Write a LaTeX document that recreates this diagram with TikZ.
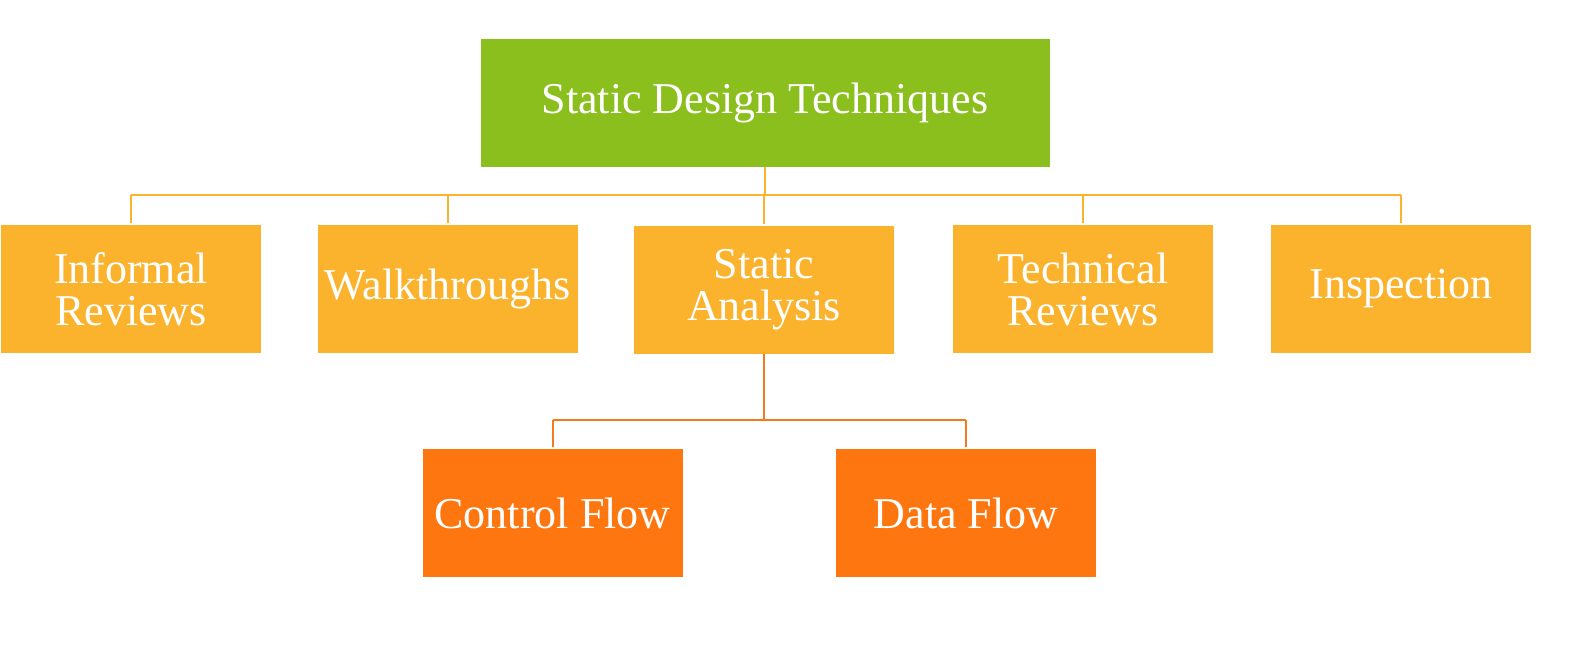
\documentclass[tikz,border=0pt]{standalone}
\usepackage{fontspec}
\setmainfont{Liberation Serif}
\definecolor{rootgreen}{HTML}{8BBF1D}
\definecolor{midorange}{HTML}{FBB32E}
\definecolor{leaforange}{HTML}{FE760F}
\definecolor{leafline}{HTML}{F47A1E}

\begin{document}
\begin{tikzpicture}[%
  x=1pt, y=-1pt,
  box/.style={fill=#1, draw=none, text=white, inner sep=0pt, align=center,
    minimum width=260pt, minimum height=128pt,
    font=\fontsize{44}{42}\selectfont},
  topbox/.style={box=rootgreen, minimum width=569pt},
  techbox/.style={box=midorange},
  flowbox/.style={box=leaforange},
  busline/.style={draw=midorange, line width=2pt},
  flowline/.style={draw=leafline, line width=2pt}]
\useasboundingbox (0,0) rectangle (1596,656);
\node[topbox] (sdt) at (765,103) {Static Design Techniques};
\node[techbox] (ir)  at (131,289)   {Informal\\Reviews};
\node[techbox] (wt)  at (447.5,289) {Walkthroughs};
\node[techbox] (sa)  at (764,290)   {Static\\Analysis};
\node[techbox] (tr)  at (1083,289)  {Technical\\Reviews};
\node[techbox] (ins) at (1401,289)  {Inspection};
\node[flowbox] (cf)  at (552.5,513) {Control Flow};
\node[flowbox] (df)  at (966,513)   {Data Flow};
\coordinate (bus) at (765,195);
\coordinate (flowbus) at (764,420);
\draw[busline] (sdt.south) -- (sdt.south |- bus);
\draw[busline] (bus -| ir.north) -- (bus -| ins.north);
\foreach \t in {ir,wt,sa,tr,ins}
  \draw[busline] (bus -| \t.north) -- ([yshift=2pt]\t.north);
\draw[flowline] (sa.south) -- (sa.south |- flowbus);
\draw[flowline] (flowbus -| cf.north) -- (flowbus -| df.north);
\foreach \f in {cf,df}
  \draw[flowline] (flowbus -| \f.north) -- ([yshift=2pt]\f.north);
\end{tikzpicture}
\end{document}
